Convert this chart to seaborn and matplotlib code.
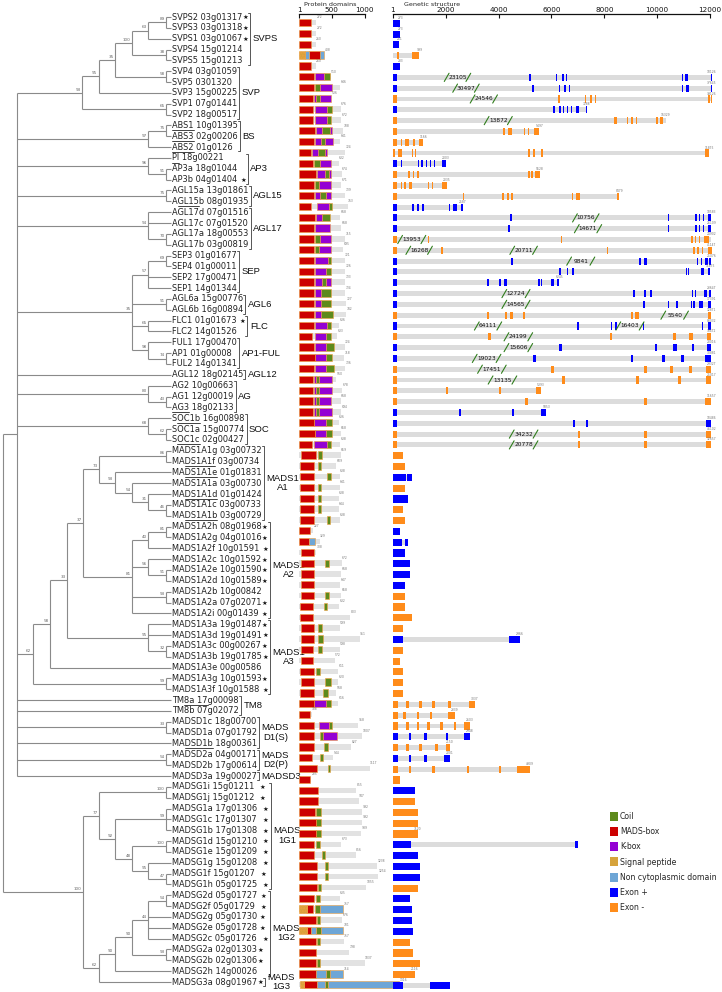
import numpy as np
import pandas as pd
import matplotlib.pyplot as plt
from matplotlib.patches import Patch
from matplotlib.collections import LineCollection
import seaborn as sns

sns.set_style("white")
plt.rcParams['font.family'] = ['DejaVu Sans']

# ---------------- tip labels (top to bottom) ----------------
gene_labels = [
    "SVPS2 03g01317★", "SVPS3 03g01318★", "SVPS1 03g01067★", "SVPS4 15g01214", "SVPS5 15g01213",
    "SVP4 03g01059", "SVP5 0301320", "SVP3 15g00225", "SVP1 07g01441", "SVP2 18g00517",
    "ABS1 10g01395", "ABS3 02g00206", "ABS2 01g0126", "PI 18g00221", "AP3a 18g01044",
    "AP3b 04g01404 ★", "AGL15a 13g01861", "AGL15b 08g01935", "AGL17d 07g01516", "AGL17c 07g01520",
    "AGL17a 18g00553", "AGL17b 03g00819", "SEP3 01g01677", "SEP4 01g00011", "SEP2 17g00471",
    "SEP1 14g01344", "AGL6a 15g00776", "AGL6b 16g00894", "FLC1 01g01673 ★", "FLC2 14g01526",
    "FUL1 17g00470", "AP1 01g00008", "FUL2 14g01341", "AGL12 18g02145", "AG2 10g00663",
    "AG1 12g00019", "AG3 18g02133", "SOC1b 16g00898", "SOC1a 15g00774", "SOC1c 02g00427",
    "MADS1A1g 03g00732", "MADS1A1f 03g00734", "MADS1A1e 01g01831", "MADS1A1a 03g00730",
    "MADS1A1d 01g01424", "MADS1A1c 03g00733", "MADS1A1b 03g00729",
    "MADS1A2h 08g01968★", "MADS1A2g 04g01016★", "MADS1A2f 10g01591 ★", "MADS1A2c 10g01592★",
    "MADS1A2e 10g01590★", "MADS1A2d 10g01589★", "MADS1A2b 10g00842", "MADS1A2a 07g02071★",
    "MADS1A2i 00g01439 ★", "MADS1A3a 19g01487★", "MADS1A3d 19g01491★", "MADS1A3c 00g00267★",
    "MADS1A3b 19g01785★", "MADS1A3e 00g00586", "MADS1A3g 10g01593★", "MADS1A3f 10g01588 ★",
    "TM8a 17g00098", "TM8b 07g02072", "MADSD1c 18g00700", "MADSD1a 07g01792", "MADSD1b 18g00361",
    "MADSD2a 04g00171", "MADSD2b 17g00614", "MADSD3a 19g00027",
    "MADSG1i 15g01211  ★", "MADSG1j 15g01212  ★", "MADSG1a 17g01306  ★", "MADSG1c 17g01307  ★",
    "MADSG1b 17g01308  ★", "MADSG1d 15g01210  ★", "MADSG1e 15g01209  ★", "MADSG1g 15g01208  ★",
    "MADSG1f 15g01207  ★", "MADSG1h 05g01725  ★",
    "MADSG2d 05g01727 ★", "MADSG2f 05g01729  ★", "MADSG2g 05g01730 ★", "MADSG2e 05g01728 ★",
    "MADSG2c 05g01726  ★", "MADSG2a 02g01303★", "MADSG2b 02g01306★", "MADSG2h 14g00026",
    "MADSG3a 08g01967★",
]

# underlined character spans of some labels
underlined = {10: (0, 4), 11: (0, 4), 12: (0, 4), 13: (0, 2), 17: (1, 5), 36: (0, 3),
              37: (1, 5), 39: (1, 5), 41: (2, 8), 42: (2, 8), 44: (2, 8), 46: (2, 8),
              63: (2, 7), 67: (2, 7)}

# clades: name, first row, last row
clade_names = ["SVPS", "SVP", "BS", "AP3", "AGL15", "AGL17", "SEP", "AGL6", "FLC", "AP1-FUL",
               "AGL12", "AG", "SOC", "MADS1\nA1", "MADS1\nA2", "MADS1\nA3", "TM8",
               "MADS\nD1(S)", "MADS\nD2(P)", "MADSD3", "MADS\n1G1", "MADS\n1G2", "MADS\n1G3"]
clade_first = [0, 5, 10, 13, 16, 18, 22, 26, 28, 30, 33, 34, 37, 40, 47, 56, 63, 65, 68, 70, 71, 81, 89]
clade_last = [4, 9, 12, 15, 17, 21, 25, 27, 29, 32, 33, 36, 39, 46, 55, 62, 64, 67, 69, 70, 80, 88, 89]


# ---------------- tree (node depth, bootstrap, children) ----------------
def node(depth, boot, *kids):
    return (depth, boot, kids)


tree = node(3, None,
    node(17, None,
        node(82, 93, node(99, 95, node(115, 35, node(132, 100, node(148, 63, node(166, 89, 0, 1), 2),
                                                   node(166, 38, 3, 4)),
                                      node(166, 58, 5, 6)), 7),
             node(166, 65, 8, 9)),
        node(148, 97, node(166, 75, 10, 11), 12),
        node(148, 96, 13, node(166, 91, 14, 15)),
        node(166, 75, 16, 17),
        node(148, 94, 18, 19, node(166, 70, 20, 21)),
        node(132, 35, node(148, 57, node(166, 69, 22, 23), 24, 25), node(166, 91, 26, 27),
             node(148, 65, 28, 29), node(148, 98, 30, node(166, 74, 31, 32))),
        33,
        node(148, 80, 34, node(166, 43, 35, 36)),
        node(148, 68, 37, node(166, 62, 38, 39)),
        node(33, 62,
             node(50, 58,
                  node(67, 33,
                       node(83, 37,
                            node(99, 73, node(166, 86, 40, 41),
                                 node(115, 93, 42, node(132, 54, 43, node(148, 31, 44, node(166, 46, 45, 46))))),
                            node(132, 81, node(148, 40, node(166, 81, 47, 48), 49),
                                 node(148, 56, 50, node(166, 91, 51, 52)),
                                 node(166, 93, 53, 54), 55)),
                       node(148, 95, 56, 57, node(166, 32, 58, 59))),
                  60),
             node(166, 99, 61, 62)),
        63, 64, node(166, 33, 65, 66), 67, node(166, 54, 68, 69), 70),
    node(83, 100,
         node(99, 77, node(166, 100, 71, 72),
              node(115, 92, node(166, 99, 73, 74, 75),
                   node(132, 48, node(166, 100, 76, 77), node(148, 95, 78, node(166, 47, 79, 80))))),
         node(99, 62, node(115, 90, node(132, 90, node(148, 44, node(166, 54, 81, 82), 83, 84, 85),
                                         node(166, 93, 86, 87)), 88), 89)))
tip_depth = 171

# ---------------- protein domains (aa) ----------------
prot_len = [264, 264, 254, 381, 254, 482, 624, 492, 634, 644, 670, 629, 700, 604, 649, 644, 705, 741,
            629, 644, 705, 670, 695, 705, 705, 705, 720, 720, 609, 578, 695, 685, 705, 568, 660, 634,
            644, 604, 634, 629, 634, 568, 619, 619, 604, 604, 619, 213, 315, 264, 649, 644, 629, 644,
            609, 781, 619, 923, 619, 543, 594, 594, 568, 594, 193, 898, 964, 796, 518, 1075, 188, 872,
            908, 959, 959, 948, 644, 862, 1192, 1207, 1025, 619, 670, 654, 670, 680, 761, 999, 670, 1521]
prot_text = ["272", "272", "260", "408", "260", "510", "646", "536", "676", "672", "708", "641", "724",
             "632", "674", "671", "739", "763", "668", "668", "715", "695", "721", "726", "733", "734",
             "727", "742", "636", "633", "724", "718", "736", "560", "678", "668", "694", "636", "658",
             "638", "659", "609", "638", "641", "638", "644", "638", "227", "329", "308", "672", "668",
             "647", "658", "632", "803", "599", "951", "598", "572", "611", "620", "568", "616", "188",
             "958", "1007", "827", "544", "1117", "235", "855", "947", "992", "992", "989", "673", "856",
             "1238", "1254", "1055", "635", "757", "676", "701", "757", "798", "1037", "714", "1316"]
domains = [
    [("M", 0, 178)], [("M", 0, 178)], [("M", 0, 178)],
    [("S", 0, 87), ("N", 87, 153), ("M", 153, 315), ("N", 315, 376)], [("M", 0, 178)],
    [("M", 0, 224), ("K", 249, 381), ("C", 381, 477)],
    [("M", 0, 234), ("C", 249, 315), ("K", 315, 497)],
    [("M", 0, 213), ("K", 234, 264), ("C", 264, 315), ("K", 315, 492)],
    [("M", 0, 218), ("K", 249, 421), ("C", 421, 502)],
    [("M", 0, 218), ("K", 249, 421), ("C", 421, 482)],
    [("M", 0, 239), ("K", 264, 345), ("C", 345, 467), ("K", 467, 507)],
    [("M", 0, 229), ("K", 249, 335), ("C", 335, 401), ("K", 401, 518)],
    [("M", 0, 188), ("K", 198, 289), ("C", 289, 396), ("K", 396, 426)],
    [("M", 0, 218), ("C", 234, 315), ("K", 315, 482)],
    [("M", 0, 264), ("K", 274, 396), ("C", 396, 457), ("K", 457, 482)],
    [("M", 0, 234), ("C", 249, 305), ("K", 305, 492)],
    [("M", 0, 229), ("K", 239, 325), ("C", 325, 406), ("K", 406, 482)],
    [("M", 0, 188), ("K", 279, 457), ("C", 457, 507)],
    [("M", 0, 239), ("K", 264, 355), ("C", 355, 477)],
    [("M", 0, 229), ("K", 239, 477)],
    [("M", 0, 234), ("C", 249, 315), ("K", 315, 482)],
    [("M", 0, 234), ("C", 249, 300), ("K", 300, 492)],
    [("M", 0, 229), ("K", 239, 447), ("C", 447, 492)],
    [("M", 0, 229), ("K", 239, 416), ("C", 416, 492)],
    [("M", 0, 229), ("K", 249, 355), ("C", 355, 416), ("K", 416, 492)],
    [("M", 0, 229), ("K", 239, 340), ("C", 340, 492)],
    [("M", 0, 234), ("K", 249, 340), ("C", 340, 492)],
    [("M", 0, 234), ("K", 249, 340), ("C", 340, 518)],
    [("M", 0, 229), ("K", 249, 431), ("C", 431, 492)],
    [("M", 0, 203), ("K", 249, 406), ("C", 406, 492)],
    [("M", 0, 234), ("K", 249, 416), ("C", 416, 533)],
    [("M", 0, 249), ("K", 249, 406), ("C", 406, 507)],
    [("M", 0, 234), ("K", 249, 406), ("C", 406, 533)],
    [("M", 0, 213), ("K", 224, 254), ("C", 254, 305), ("K", 305, 502)],
    [("M", 0, 213), ("K", 224, 254), ("C", 254, 305), ("K", 305, 502)],
    [("M", 0, 213), ("K", 224, 254), ("C", 254, 305), ("K", 305, 492)],
    [("M", 0, 213), ("K", 224, 254), ("C", 254, 305), ("K", 305, 502)],
    [("M", 0, 224), ("K", 234, 416), ("C", 416, 502)],
    [("M", 0, 239), ("K", 239, 416), ("C", 416, 502)],
    [("M", 0, 203), ("K", 229, 426), ("C", 426, 492)],
    [("M", 31, 254), ("C", 284, 350)], [("M", 21, 229), ("C", 284, 340)],
    [("M", 21, 229), ("C", 426, 492)], [("M", 21, 229), ("C", 284, 340)],
    [("M", 21, 229), ("C", 284, 340)], [("M", 21, 229), ("C", 284, 340)],
    [("M", 21, 229), ("C", 426, 477)],
    [("M", 0, 163)], [("M", 0, 153), ("N", 153, 249)], [("M", 31, 234)],
    [("M", 31, 234), ("C", 396, 452)], [("M", 31, 234)], [("M", 31, 234)],
    [("M", 31, 224), ("C", 396, 452)], [("M", 11, 213), ("C", 376, 431)], [("M", 21, 218)],
    [("M", 31, 229), ("C", 284, 345)], [("M", 31, 234), ("C", 294, 365)],
    [("M", 31, 218), ("C", 284, 355)], [("M", 31, 213)], [("M", 21, 229), ("C", 264, 325)],
    [("M", 31, 224), ("C", 401, 492)], [("M", 21, 224), ("C", 365, 441)],
    [("M", 0, 224), ("K", 224, 416), ("C", 416, 492)], [("M", 0, 163)],
    [("M", 0, 229), ("K", 305, 457), ("C", 457, 502)],
    [("M", 0, 229), ("C", 315, 365), ("K", 365, 579)],
    [("M", 0, 229), ("C", 376, 441)], [("M", 0, 203), ("C", 315, 365)],
    [("M", 0, 274), ("C", 441, 477)], [("M", 0, 163)],
    [("M", 0, 289)], [("M", 0, 289)], [("M", 0, 249), ("C", 264, 330)],
    [("M", 0, 254), ("C", 264, 330)], [("M", 0, 254), ("C", 264, 340)],
    [("M", 0, 229), ("C", 264, 315)], [("M", 0, 229), ("C", 355, 401)],
    [("M", 0, 274), ("C", 391, 441)], [("M", 0, 274), ("C", 391, 441)],
    [("M", 0, 274), ("C", 289, 340)],
    [("M", 0, 229), ("C", 264, 325)],
    [("S", 0, 127), ("M", 127, 213), ("C", 249, 325), ("N", 325, 670)],
    [("M", 0, 264), ("C", 274, 315)],
    [("S", 0, 127), ("M", 127, 188), ("N", 188, 264), ("C", 264, 340), ("N", 340, 670)],
    [("M", 0, 264), ("C", 274, 325)], [("M", 0, 264)], [("M", 0, 264), ("C", 274, 325)],
    [("M", 0, 264), ("N", 264, 416), ("C", 416, 467), ("N", 467, 670)],
    [("S", 21, 71), ("M", 71, 279), ("N", 279, 391), ("C", 391, 441), ("N", 441, 1521)],
]

# ---------------- gene structure (kb along the drawn axis) ----------------
gene_strand = ["+", "+", "+", "-", "+", "+", "+", "-", "+", "-",
               "-", "-", "-", "+", "-", "-", "-", "+", "+", "+",
               "-", "-", "+", "+", "+", "+", "+", "-", "+", "-",
               "+", "+", "-", "-", "-", "-", "+", "+", "-", "-",
               "-", "-", "+", "-", "+", "-", "-",
               "+", "+", "+", "+", "+", "+", "-", "-", "-",
               "-", "+", "-", "-", "-", "-", "-",
               "-", "-", "-", "+", "-", "+", "-", "-",
               "+", "-", "-", "-", "-", "+", "+", "+", "+", "-",
               "+", "+", "+", "+", "-", "-", "-", "-", "+"]
gene_len = [0.28, 0.28, 0.25, 1.01, 0.28, 12.06, 12.06, 12.07, 7.33, 10.32, 5.54, 1.16, 11.97, 2.00,
            5.57, 2.04, 8.56, 2.65, 12.05, 12.05, 12.05, 12.06, 12.05, 12.0, 6.30, 12.05, 12.05, 12.05,
            12.05, 12.05, 12.05, 12.05, 12.05, 12.05, 5.6, 12.05, 5.8, 12.05, 12.05, 12.05,
            0.38, 0.45, 0.72, 0.45, 0.57, 0.38, 0.45, 0.28, 0.57, 0.45, 0.64, 0.64, 0.45, 0.45, 0.45,
            0.72, 0.38, 4.8, 0.38, 0.28, 0.38, 0.38, 0.38, 3.1, 2.34, 2.91, 2.91, 2.15, 2.15, 5.18, 0.28,
            0.83, 0.83, 0.95, 0.95, 0.95, 7.0, 0.95, 1.02, 1.02, 0.95, 0.64, 0.72, 0.72, 0.76, 0.64,
            0.76, 1.02, 0.83, 2.15]
gene_text = ["273", "273", "251", "999", "283", "10126", "37645", "39126", "7288", "16329", "5497",
             "1166", "11875", "2003", "5528", "2035", "8479", "2587", "18583", "26109", "24902", "41147",
             "25076", "11875", "6245", "23647", "17391", "12871", "88032", "38472", "28016", "30881",
             "29327", "25017", "5393", "11657", "5853", "10486", "46102", "32657"] + [""] * 17 + \
            ["2966"] + [""] * 5 + ["3037", "2339", "2603", "2948", "2150", "2001", "4909"] + [""] * 5 + \
            ["7120"] + [""] * 12 + ["2116"]
exons = [
    [(0, 0.28)], [(0, 0.28)], [(0, 0.25)], [(0, 0.03), (0.15, 0.25), (0.72, 1.01)], [(0, 0.28)],
    [(0, 0.18), (5.15, 5.22), (6.17, 6.22), (6.39, 6.46), (6.55, 6.59), (10.92, 10.98), (11.05, 11.18), (12.03, 12.06)],
    [(0, 0.18), (5.28, 5.33), (6.30, 6.34), (6.49, 6.55), (6.65, 6.69), (10.95, 10.99), (11.08, 11.21), (12.03, 12.06)],
    [(0, 0.18), (6.26, 6.33), (7.27, 7.32), (7.47, 7.55), (7.63, 7.67), (11.93, 11.98), (12.03, 12.07)],
    [(0, 0.18), (6.07, 6.14), (6.29, 6.35), (6.43, 6.49), (6.59, 6.64), (6.74, 6.79), (6.92, 7.04), (7.31, 7.33)],
    [(0, 0.18), (8.38, 8.47), (8.85, 8.91), (9.01, 9.10), (9.19, 9.22), (9.95, 10.02), (10.11, 10.23)],
    [(0, 0.18), (4.18, 4.25), (4.35, 4.50), (4.98, 5.01), (5.10, 5.14), (5.34, 5.54)],
    [(0, 0.18), (0.30, 0.35), (0.47, 0.63), (0.78, 0.83), (0.98, 1.16)],
    [(0, 0.08), (0.21, 0.34), (0.74, 0.78), (0.84, 0.89), (5.10, 5.18), (5.30, 5.37), (5.59, 5.67), (11.81, 11.97)],
    [(0, 0.18), (0.30, 0.37), (0.95, 1.01), (1.07, 1.16), (1.25, 1.31), (1.41, 1.44), (1.58, 1.61), (1.88, 2.00)],
    [(0, 0.18), (0.59, 0.66), (0.76, 0.81), (0.91, 1.00), (5.10, 5.18), (5.22, 5.29), (5.38, 5.57)],
    [(0, 0.18), (0.30, 0.35), (0.44, 0.49), (0.62, 0.72), (1.35, 1.39), (1.47, 1.54), (1.88, 2.04)],
    [(0, 0.18), (2.65, 2.71), (4.15, 4.22), (4.31, 4.40), (4.49, 4.54), (6.79, 6.83), (6.93, 7.08), (8.48, 8.56)],
    [(0, 0.18), (0.74, 0.82), (0.93, 0.98), (1.10, 1.20), (2.12, 2.17), (2.27, 2.42), (2.58, 2.65)],
    [(0, 0.18), (4.44, 4.51), (10.41, 10.46), (11.42, 11.49), (11.57, 11.61), (11.72, 11.76), (11.93, 12.03)],
    [(0, 0.18), (4.36, 4.42), (10.41, 10.46), (11.42, 11.49), (11.57, 11.61), (11.72, 11.76), (11.93, 12.03)],
    [(0, 0.18), (1.32, 1.39), (6.35, 6.41), (11.26, 11.34), (11.43, 11.48), (11.58, 11.63), (11.78, 11.96)],
    [(0, 0.18), (1.83, 1.89), (8.09, 8.14), (11.34, 11.43), (11.52, 11.57), (11.68, 11.74), (11.91, 12.06)],
    [(0, 0.18), (4.47, 4.55), (9.32, 9.37), (9.50, 9.60), (11.52, 11.56), (11.64, 11.69), (11.81, 11.93), (11.96, 12.03)],
    [(0, 0.18), (6.30, 6.36), (6.58, 6.64), (6.77, 6.85), (11.08, 11.11), (11.15, 11.20), (11.64, 11.77), (11.93, 11.99)],
    [(0, 0.18), (3.55, 3.63), (4.03, 4.08), (4.22, 4.32), (5.51, 5.56), (5.61, 5.66), (5.99, 6.10), (6.22, 6.30)],
    [(0, 0.18), (9.10, 9.15), (9.51, 9.56), (9.73, 9.82), (11.30, 11.35), (11.43, 11.47), (11.77, 11.87), (11.97, 12.03)],
    [(0, 0.18), (9.48, 9.54), (10.40, 10.44), (10.71, 10.80), (11.28, 11.33), (11.37, 11.42), (11.58, 11.72), (11.93, 12.02)],
    [(0, 0.18), (3.55, 3.63), (4.25, 4.32), (4.44, 4.54), (4.94, 4.99), (9.01, 9.07), (9.16, 9.31), (11.93, 12.03)],
    [(0, 0.18), (6.96, 7.03), (8.25, 8.30), (8.40, 8.49), (9.45, 9.51), (11.68, 11.73), (11.91, 12.03)],
    [(0, 0.18), (3.6, 3.7), (8.2, 8.3), (10.6, 10.7), (11.2, 11.35), (11.9, 12.05)],
    [(0, 0.18), (6.3, 6.4), (9.9, 10.0), (10.6, 10.75), (11.3, 11.4), (11.9, 12.05)],
    [(0, 0.18), (5.3, 5.4), (9.0, 9.1), (10.2, 10.3), (10.9, 11.0), (11.8, 12.05)],
    [(0, 0.18), (6.0, 6.1), (9.5, 9.6), (10.5, 10.6), (11.2, 11.3), (11.85, 12.05)],
    [(0, 0.18), (6.4, 6.5), (9.2, 9.3), (10.8, 10.9), (11.85, 12.05)],
    [(0, 0.18), (2.0, 2.1), (4.0, 4.1), (5.4, 5.6)],
    [(0, 0.18), (5.0, 5.1), (9.5, 9.6), (11.8, 12.05)],
    [(0, 0.18), (2.5, 2.6), (4.5, 4.6), (5.6, 5.8)],
    [(0, 0.18), (6.8, 6.9), (7.3, 7.4), (11.85, 12.05)],
    [(0, 0.18), (7.0, 7.1), (9.5, 9.6), (11.85, 12.05)],
    [(0, 0.18), (7.0, 7.1), (9.5, 9.6), (11.85, 12.05)],
    [(0, 0.38)], [(0, 0.45)], [(0, 0.5), (0.55, 0.72)], [(0, 0.45)], [(0, 0.57)], [(0, 0.38)], [(0, 0.45)],
    [(0, 0.28)], [(0, 0.35), (0.45, 0.57)], [(0, 0.45)], [(0, 0.64)], [(0, 0.64)], [(0, 0.45)],
    [(0, 0.45)], [(0, 0.45)], [(0, 0.72)],
    [(0, 0.38)], [(0, 0.4), (4.4, 4.8)], [(0, 0.38)], [(0, 0.28)], [(0, 0.38)], [(0, 0.38)], [(0, 0.38)],
    [(0, 0.2), (0.5, 0.6), (1.0, 1.1), (1.5, 1.6), (2.1, 2.2), (2.9, 3.1)],
    [(0, 0.2), (0.4, 0.5), (0.9, 1.0), (1.4, 1.5), (2.1, 2.34)],
    [(0, 0.2), (0.5, 0.6), (0.9, 1.0), (1.3, 1.4), (1.8, 1.9), (2.3, 2.4), (2.7, 2.91)],
    [(0, 0.2), (0.6, 0.7), (1.2, 1.3), (2.0, 2.1), (2.7, 2.91)],
    [(0, 0.2), (0.5, 0.6), (1.0, 1.1), (1.6, 1.7), (2.0, 2.15)],
    [(0, 0.2), (0.6, 0.7), (1.2, 1.3), (1.95, 2.15)],
    [(0, 0.2), (0.6, 0.7), (1.5, 1.6), (2.8, 2.9), (4.0, 4.1), (4.7, 5.18)],
    [(0, 0.28)],
    [(0, 0.83)], [(0, 0.83)], [(0, 0.95)], [(0, 0.95)], [(0, 0.95)], [(0, 0.7), (6.9, 7.0)],
    [(0, 0.95)], [(0, 1.02)], [(0, 1.02)], [(0, 0.95)],
    [(0, 0.64)], [(0, 0.72)], [(0, 0.72)], [(0, 0.76)], [(0, 0.64)], [(0, 0.76)], [(0, 1.02)], [(0, 0.83)],
    [(0, 0.4), (1.4, 2.15)],
]
gene_breaks = {5: [(2.04, 2.86, "23105")], 6: [(2.36, 3.18, "30497")], 7: [(3.02, 3.87, "24546")],
               9: [(3.55, 4.43, "13872")], 18: [(6.89, 7.71, "10756")], 19: [(6.96, 7.81, "14671")],
               20: [(0.28, 1.16, "13953")], 21: [(0.59, 1.41, "16268"), (4.52, 5.38, "20711")],
               22: [(6.67, 7.55, "9841")], 25: [(4.22, 5.10, "12724")], 26: [(4.22, 5.10, "14565")],
               27: [(10.23, 11.09, "5540")], 28: [(3.18, 4.03, "64111"), (8.53, 9.41, "16403")],
               29: [(4.3, 5.2, "24199")], 30: [(4.3, 5.2, "15606")], 31: [(3.1, 4.0, "19023")],
               32: [(3.3, 4.2, "17451")], 33: [(3.7, 4.6, "13135")], 38: [(4.5, 5.4, "34232")],
               39: [(4.5, 5.4, "20778")]}

dom_colors = {"M": "#cc0000", "K": "#9400d3", "C": "#5d8a1c", "S": "#d6a33c", "N": "#6ea6d6"}
strand_colors = {"+": "#0000ff", "-": "#ff8c1a"}
n = len(gene_labels)
rows = np.arange(n)

# ---------------- figure ----------------
W, H = 722, 992
fig = plt.figure(figsize=(W / 100, H / 100), dpi=100)

dy = 10.843
ax_t = fig.add_axes([0, 0, 1, 1])
ax_t.set_xlim(0, W)
ax_t.set_ylim((H - 17) / dy, -17 / dy)
ax_t.axis('off')

segs, boots = [], []


def walk(nd, parent_x):
    if isinstance(nd, int):
        segs.append([(parent_x, nd), (tip_depth, nd)])
        return nd
    x, bs, kids = nd
    ys = [walk(k, x) for k in kids]
    y = (ys[0] + ys[-1]) / 2
    segs.append([(x, ys[0]), (x, ys[-1])])
    if parent_x is not None:
        segs.append([(parent_x, y), (x, y)])
    if bs is not None:
        boots.append((x, y, bs))
    return y


walk(tree, None)
ax_t.add_collection(LineCollection(segs, colors="#8a8a8a", linewidths=0.8))
for x, y, bs in boots:
    ax_t.text(x - 1.5, y - 0.1, str(bs), fontsize=3, color="#666666", ha="right", va="bottom")

label_fs = 5.95
tip_txt = [ax_t.text(tip_depth + 1, r, lab.rstrip("★"), fontsize=label_fs, color="#222222",
                     ha="left", va="center") for r, lab in zip(rows, gene_labels)]

fig.canvas.draw()
rend = fig.canvas.get_renderer()
inv = ax_t.transData.inverted()


def text_right(t):
    bb = t.get_window_extent(rend)
    return inv.transform((bb.x1, 0))[0]


def prefix_w(s):
    t = ax_t.text(0, 0, s, fontsize=label_fs)
    w = t.get_window_extent(rend).width
    t.remove()
    return w


right_edge = [text_right(t) for t in tip_txt]
for r, lab in enumerate(gene_labels):
    if lab.endswith("★"):
        st = ax_t.text(right_edge[r] + 0.3, r + 0.08, "★", fontsize=4.6, color="#111111", ha="left", va="center")
        right_edge[r] = text_right(st)

for r, (a, b) in underlined.items():
    x0 = tip_depth + 1 + (prefix_w(gene_labels[r][:a]) if a else 0)
    x1 = tip_depth + 1 + prefix_w(gene_labels[r][:b])
    ax_t.plot([x0, x1], [r + 0.42, r + 0.42], color="#222222", lw=0.6)

for name, r0, r1 in zip(clade_names, clade_first, clade_last):
    xb = max(right_edge[r0:r1 + 1]) + 2
    ax_t.plot([xb - 2, xb, xb, xb - 2], [r0 - 0.4, r0 - 0.4, r1 + 0.4, r1 + 0.4], color="#555555", lw=0.7)
    ax_t.text(xb + 2.5, (r0 + r1) / 2, name, fontsize=6.8, family="Liberation Sans", color="#111111",
              ha="left", va="center", multialignment="center", linespacing=1.05)

# ---------------- protein domains ----------------
dy2 = 10.81
px_per_aa = 0.0657
p_left = 299
ax_p = fig.add_axes([p_left / W, 0, 110 / W, 1])
sns.barplot(x=prot_len, y=gene_labels, orient="h", color="#e2e2e2", width=0.5, saturation=1,
            linewidth=0, ax=ax_p)
dom_df = pd.DataFrame([(r, t, s, e) for r, doms in enumerate(domains) for t, s, e in doms],
                      columns=["row", "type", "start", "end"])
for t, sub in dom_df.groupby("type"):
    ax_p.barh(sub["row"], sub["end"] - sub["start"], left=sub["start"], height=0.68,
              color=dom_colors[t], edgecolor="#f0a040", linewidth=0.4,
              hatch="......" if t == "S" else None)
for r, L, s in zip(rows, prot_len, prot_text):
    ax_p.text(L + 5, r - 0.3, s, fontsize=2.2, color="#777777", ha="left", va="bottom")
ax_p.set_xlim(0, 110 / px_per_aa)
ax_p.set_ylim((H - 22.7) / dy2, -22.7 / dy2)

# ---------------- gene structure ----------------
g_left = 392.7
px_per_kb = 26.45
ax_g = fig.add_axes([g_left / W, 0, (W - g_left) / W, 1])
sns.barplot(x=np.array(gene_len) * 1000, y=gene_labels, orient="h", color="#dcdcdc", width=0.45,
            saturation=1, linewidth=0, ax=ax_g)
ex_df = pd.DataFrame([(r, gene_strand[r], s * 1000, e * 1000) for r, ex in enumerate(exons) for s, e in ex],
                     columns=["row", "strand", "start", "end"])
for st, sub in ex_df.groupby("strand"):
    ax_g.barh(sub["row"], (sub["end"] - sub["start"]).clip(lower=25), left=sub["start"], height=0.66,
              color=strand_colors[st], linewidth=0)
for r, brks in gene_breaks.items():
    for b0, b1, lab in brks:
        for b in (b0, b1):
            ax_g.plot([b * 1000 - 90, b * 1000 + 90], [r + 0.38, r - 0.38], color="#2f7d1c", lw=0.8)
        ax_g.text((b0 + b1) * 500, r, lab, fontsize=4.2, color="#111111", ha="center", va="center")
for r, L, s in zip(rows, gene_len, gene_text):
    if s:
        ax_g.text(L * 1000, r - 0.32, s, fontsize=2.2, color="#777777", ha="center", va="bottom")
ax_g.set_xlim(0, (W - g_left) / px_per_kb * 1000)
ax_g.set_ylim((H - 23.3) / dy2, -23.3 / dy2)

# axes cosmetics: only a top scale line
for ax, ticks, top_y in ((ax_p, [1, 500, 1000], -0.8), (ax_g, [1, 2000, 4000, 6000, 8000, 10000, 12000], -0.86)):
    for s in ("left", "right", "bottom"):
        ax.spines[s].set_visible(False)
    ax.set_xlabel("")
    ax.set_ylabel("")
    ax.set_yticks([])
    ax.patch.set_alpha(0)
    ax.xaxis.tick_top()
    ax.set_xticks(ticks)
    ax.set_xticklabels([str(t) for t in ticks])
    ax.tick_params(axis="x", direction="in", length=3, width=0.8, pad=1, labelsize=5.2, colors="#111111")
    ax.spines["top"].set_position(("data", top_y))
    ax.spines["top"].set_bounds(ticks[0], ticks[-1])
    ax.spines["top"].set_linewidth(0.9)
    ax.spines["top"].set_color("#111111")

fig.text(330 / W, 1 - 4.5 / H, "Protein domains", fontsize=4.6, ha="center", va="center", color="#222222")
fig.text(432 / W, 1 - 4.5 / H, "Genetic structure", fontsize=4.6, ha="center", va="center", color="#222222")

# ---------------- legend ----------------
leg_names = ["Coil", "MADS-box", "K-box", "Signal peptide", "Non cytoplasmic domain", "Exon +", "Exon -"]
leg_cols = [dom_colors["C"], dom_colors["M"], dom_colors["K"], dom_colors["S"], dom_colors["N"],
            strand_colors["+"], strand_colors["-"]]
handles = [Patch(facecolor=c, edgecolor="none") for c in leg_cols]
fig.legend(handles, leg_names, loc="upper left", bbox_to_anchor=(610 / W, 1 - 812 / H), frameon=False,
           fontsize=5.6, handlelength=1.0, handleheight=1.4, handletextpad=0.3, labelspacing=0.78,
           borderaxespad=0, borderpad=0)

fig.savefig("out.png", dpi=100)
